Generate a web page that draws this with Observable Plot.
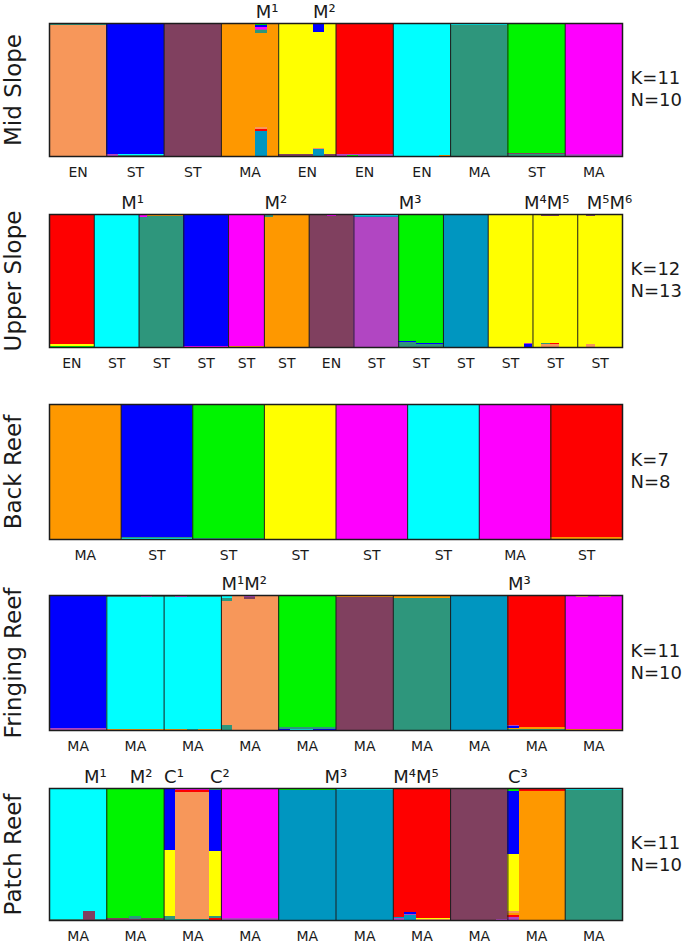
<!DOCTYPE html>
<html><head><meta charset="utf-8">
<script src="https://cdn.jsdelivr.net/npm/d3@7"></script>
<script src="https://cdn.jsdelivr.net/npm/@observablehq/plot@0.6"></script>
<style>
body{margin:0;background:#fff;}
#chart{position:relative;width:685px;height:951px;overflow:hidden;font-family:"DejaVu Sans";}
#chart > div{position:absolute;left:0;}
</style></head><body><div id="chart"></div>
<script>
// ---- cluster palette ----
const clusters = ["peach","blue","plum","orange","yellow","red","cyan","teal","green","magenta","purple","ocean"];
const clusterColors = ["#f7975a","#0000fe","#80405f","#fe9800","#ffff00","#fe0000","#00ffff","#2e967c","#00f400","#fe00fe","#b146c2","#0096c0"];

// ---- Mid Slope ----
const midName = "Mid Slope";
const midGroups = ["peach","blue","plum","orange","yellow","red","cyan","teal","green","magenta"];
const midSizes = [5,5,5,5,5,5,5,5,5,5];
const midOrigins = ["EN","ST","ST","MA","EN","EN","EN","MA","ST","MA"];
// [firstInd, lastInd, bottom parts, top parts]
const midAdmix = [
  [0,4,[],[["teal",0.015]]],
  [5,5,[["purple",0.012]],[]],
  [6,9,[["teal",0.008],["cyan",0.008]],[]],
  [10,14,[],[["orange",0.01]]],
  [15,17,[],[["purple",0.008]]],
  [18,18,[["ocean",0.19],["red",0.01],["peach",0.015]],[["teal",0.018],["purple",0.012],["magenta",0.015],["blue",0.015],["green",0.012]]],
  [19,19,[],[["purple",0.008]]],
  [20,22,[["plum",0.012]],[]],
  [23,23,[["ocean",0.05],["peach",0.012]],[["blue",0.055],["teal",0.01]]],
  [24,24,[["plum",0.012]],[]],
  [25,25,[["purple",0.015]],[]],
  [26,26,[["green",0.008],["purple",0.01]],[]],
  [27,29,[["purple",0.015]],[]],
  [30,33,[],[["green",0.01]]],
  [34,34,[["orange",0.008]],[["green",0.01]]],
  [35,39,[],[["cyan",0.012]]],
  [40,44,[["teal",0.015],["plum",0.005]],[]],
  [45,49,[["purple",0.012],["teal",0.005]],[]]
];
const midMarkers = [[18,"M¹"],[23,"M²"]];
const midK = 11, midN = 10;

// ---- Upper Slope ----
const upName = "Upper Slope";
const upGroups = ["red","cyan","teal","blue","magenta","orange","plum","purple","green","ocean","yellow","yellow","yellow"];
const upSizes = [5,5,5,5,4,5,5,5,5,5,5,5,5];
const upOrigins = ["EN","ST","ST","ST","ST","ST","EN","ST","ST","ST","ST","ST","ST"];
const upAdmix = [
  [0,4,[["green",0.008],["yellow",0.016]],[]],
  [7,7,[],[["blue",0.006]]],
  [8,8,[],[["teal",0.01]]],
  [10,10,[],[["magenta",0.015],["purple",0.01]]],
  [11,14,[],[["orange",0.008],["yellow",0.006]]],
  [15,19,[["magenta",0.01]],[]],
  [20,23,[["orange",0.008]],[]],
  [24,24,[],[["teal",0.02]]],
  [25,28,[],[["teal",0.008]]],
  [29,30,[],[["purple",0.008]]],
  [31,31,[],[["magenta",0.015]]],
  [32,33,[],[["purple",0.008]]],
  [34,38,[],[["ocean",0.012],["cyan",0.008],["teal",0.006]]],
  [39,40,[["teal",0.035],["blue",0.01]],[]],
  [41,43,[["teal",0.02],["blue",0.01]],[]],
  [44,48,[],[["orange",0.008]]],
  [53,53,[["blue",0.02],["purple",0.008]],[]],
  [55,55,[["peach",0.02],["teal",0.01]],[["plum",0.015]]],
  [56,56,[["peach",0.02],["red",0.01]],[["plum",0.015]]],
  [60,60,[["peach",0.025]],[["plum",0.015]]],
  [63,63,[],[["plum",0.008]]]
];
const upMarkers = [[8,"M¹"],[24,"M²"],[39,"M³"],[53,"M⁴M⁵"],[60,"M⁵M⁶"]];
const upK = 12, upN = 13;

// ---- Back Reef ----
const backName = "Back Reef";
const backGroups = ["orange","blue","green","yellow","magenta","cyan","magenta","red"];
const backSizes = [5,5,5,5,5,5,5,5];
const backOrigins = ["MA","ST","ST","ST","ST","ST","MA","ST"];
const backAdmix = [
  [0,4,[],[["plum",0.006]]],
  [5,9,[["cyan",0.008],["teal",0.006]],[]],
  [10,14,[["teal",0.01]],[]],
  [30,34,[],[["peach",0.01]]],
  [35,39,[["orange",0.012]],[]]
];
const backMarkers = [];
const backK = 7, backN = 8;

// ---- Fringing Reef ----
const fringName = "Fringing Reef";
const fringGroups = ["blue","cyan","cyan","peach","green","plum","teal","ocean","red","magenta"];
const fringSizes = [5,5,5,5,5,5,5,5,5,5];
const fringOrigins = ["MA","MA","MA","MA","MA","MA","MA","MA","MA","MA"];
const fringAdmix = [
  [0,4,[["purple",0.012],["plum",0.006]],[["purple",0.006]]],
  [5,7,[["orange",0.01]],[["teal",0.008],["orange",0.01]]],
  [8,8,[["orange",0.01]],[["purple",0.015]]],
  [9,9,[["orange",0.01]],[["teal",0.008],["orange",0.01]]],
  [10,10,[["orange",0.01]],[["teal",0.008],["orange",0.006]]],
  [11,11,[["orange",0.01]],[["purple",0.015]]],
  [12,12,[["teal",0.01]],[["teal",0.008],["orange",0.006]]],
  [13,14,[["orange",0.01]],[["teal",0.008],["orange",0.006]]],
  [15,15,[["teal",0.035]],[["teal",0.025],["cyan",0.02]]],
  [16,16,[],[["purple",0.008]]],
  [17,17,[],[["plum",0.015],["purple",0.015]]],
  [18,19,[],[["purple",0.008]]],
  [20,20,[["blue",0.01],["teal",0.01]],[]],
  [21,22,[["cyan",0.01],["teal",0.01]],[]],
  [23,24,[["blue",0.01],["teal",0.01]],[]],
  [25,29,[],[["orange",0.015]]],
  [30,34,[],[["orange",0.02]]],
  [35,39,[],[["purple",0.01]]],
  [40,40,[["teal",0.008],["orange",0.008],["blue",0.012],["purple",0.012]],[]],
  [41,44,[["teal",0.008],["orange",0.012]],[]],
  [45,45,[["orange",0.01]],[]],
  [46,46,[["orange",0.01]],[["peach",0.012]]],
  [47,47,[["orange",0.01]],[["purple",0.01]]],
  [48,48,[["orange",0.01]],[["peach",0.012]]],
  [49,49,[["orange",0.01]],[]]
];
const fringMarkers = [[15,"M¹M²"],[40,"M³"]];
const fringK = 11, fringN = 10;

// ---- Patch Reef ----
const patchName = "Patch Reef";
const patchGroups = ["cyan","green","peach","magenta","ocean","ocean","red","plum","orange","teal"];
const patchSizes = [5,5,5,5,5,5,5,5,5,5];
const patchOrigins = ["MA","MA","MA","MA","MA","MA","MA","MA","MA","MA"];
const patchAdmix = [
  [0,2,[["teal",0.01]],[]],
  [3,3,[["plum",0.07]],[]],
  [4,4,[["teal",0.01]],[["teal",0.008]]],
  [5,6,[["plum",0.012]],[]],
  [7,7,[["plum",0.01],["teal",0.02]],[]],
  [8,9,[["plum",0.012]],[]],
  [10,10,[["teal",0.03],["yellow",0.5]],[["blue",0.47]]],
  [11,13,[["teal",0.005]],[["red",0.015],["magenta",0.015]]],
  [14,14,[["red",0.015],["teal",0.015],["yellow",0.49]],[["blue",0.465],["teal",0.015]]],
  [15,19,[["purple",0.015]],[]],
  [20,24,[],[["green",0.008],["yellow",0.008]]],
  [25,29,[],[["cyan",0.006],["yellow",0.008]]],
  [30,30,[["purple",0.015],["ocean",0.008]],[]],
  [31,31,[["ocean",0.035],["purple",0.01],["blue",0.015]],[]],
  [32,34,[["peach",0.01],["yellow",0.008]],[]],
  [35,38,[],[["orange",0.008]]],
  [39,39,[["purple",0.01]],[["orange",0.008]]],
  [40,40,[["purple",0.02],["red",0.015],["orange",0.02],["peach",0.015],["yellow",0.43]],[["blue",0.475],["green",0.025]]],
  [41,44,[],[["red",0.012],["magenta",0.01]]],
  [45,49,[],[["cyan",0.008],["orange",0.008]]]
];
const patchMarkers = [[3,"M¹"],[7,"M²"],[10,"C¹"],[14,"C²"],[24,"M³"],[30,"M⁴M⁵"],[40,"C³"]];
const patchK = 11, patchN = 10;

// ---- build ----
const panels = [
  {name: midName, groups: midGroups, sizes: midSizes, origins: midOrigins, admix: midAdmix, markers: midMarkers, K: midK, N: midN},
  {name: upName, groups: upGroups, sizes: upSizes, origins: upOrigins, admix: upAdmix, markers: upMarkers, K: upK, N: upN},
  {name: backName, groups: backGroups, sizes: backSizes, origins: backOrigins, admix: backAdmix, markers: backMarkers, K: backK, N: backN},
  {name: fringName, groups: fringGroups, sizes: fringSizes, origins: fringOrigins, admix: fringAdmix, markers: fringMarkers, K: fringK, N: fringN},
  {name: patchName, groups: patchGroups, sizes: patchSizes, origins: patchOrigins, admix: patchAdmix, markers: patchMarkers, K: patchK, N: patchN}
];
const layout = [
  {top: 0, height: 191, frameH: 133},
  {top: 191, height: 190, frameH: 133},
  {top: 381, height: 191, frameH: 135},
  {top: 572, height: 193, frameH: 135},
  {top: 765, height: 186, frameH: 132}
];

function build(p) {
  const rows = [], groupInfo = [];
  let i = 0;
  p.groups.forEach((g, gi) => {
    const start = i;
    for (let k = 0; k < p.sizes[gi]; k++, i++) {
      const a = p.admix.find(d => i >= d[0] && i <= d[1]);
      const bottom = a ? a[2] : [], top = a ? a[3] : [];
      const main = 1 - d3.sum(bottom, d => d[1]) - d3.sum(top, d => d[1]);
      [...bottom, [g, Math.max(0, main)], ...top].forEach(([c, q]) => {
        if (q > 0) rows.push({i0: i, i1: i + 1, cluster: c, q});
      });
    }
    groupInfo.push({start, mid: start + p.sizes[gi] / 2, origin: p.origins[gi]});
  });
  return {rows, groupInfo, n: i};
}

const chart = document.getElementById("chart");
panels.forEach((p, pi) => {
  const L = layout[pi];
  const {rows, groupInfo, n} = build(p);
  const fam = "DejaVu Sans";
  const svg = Plot.plot({
    width: 685, height: L.height,
    marginTop: 23, marginBottom: L.height - 23 - L.frameH, marginLeft: 49, marginRight: 63,
    x: {domain: [0, n], axis: null},
    y: {domain: [0, 1], axis: null},
    color: {domain: clusters, range: clusterColors},
    style: {fontFamily: fam, background: "transparent", color: "#1a1a1a", overflow: "visible"},
    marks: [
      Plot.rectY(rows, {x1: "i0", x2: "i1", y: "q", fill: "cluster", shapeRendering: "crispEdges"}),
      Plot.ruleX(groupInfo.slice(1), {x: "start", stroke: "#1c1c1c", strokeWidth: 1}),
      Plot.frame({stroke: "#1c1c1c", strokeWidth: 1.5}),
      Plot.text(groupInfo, {x: "mid", text: "origin", frameAnchor: "bottom", dy: 16, lineAnchor: "middle", fontSize: 14, fontFamily: fam, fill: "#1a1a1a"}),
      Plot.text(p.markers, {x: d => d[0], text: d => d[1], frameAnchor: "top", dy: -11, lineAnchor: "middle", textAnchor: "start", fontSize: 18, fontFamily: fam, fill: "#1a1a1a"}),
      Plot.text([p.name], {text: d => d, frameAnchor: "left", dx: -36, rotate: -90, textAnchor: "middle", lineAnchor: "middle", fontSize: 23, fontFamily: fam, fill: "#1a1a1a"}),
      Plot.text([`K=${p.K}\nN=${p.N}`], {text: d => d, frameAnchor: "right", dx: 8, dy: -2, textAnchor: "start", lineAnchor: "middle", lineHeight: 1.22, fontSize: 18, fontFamily: fam, fill: "#1a1a1a"})
    ]
  });
  const div = document.createElement("div");
  div.style.top = L.top + "px";
  div.appendChild(svg);
  chart.appendChild(div);
});
</script></body></html>
